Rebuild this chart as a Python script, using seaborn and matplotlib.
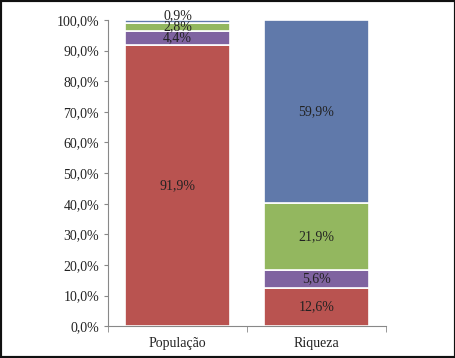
import numpy as np
import pandas as pd
import matplotlib
matplotlib.use("Agg")
import matplotlib.pyplot as plt
import seaborn as sns
from matplotlib.ticker import FuncFormatter

# ---------------------------------------------------------------------------
# Data (stacked shares, bottom to top)
# ---------------------------------------------------------------------------
categories = ["População", "Riqueza"]
seg_red = [91.9, 12.6]
seg_purple = [4.4, 5.6]
seg_green = [2.8, 21.9]
seg_blue = [0.9, 59.9]

series = [seg_red, seg_purple, seg_green, seg_blue]
colors = ["#B95350", "#7F63A0", "#93B75F", "#6079AA"]

sns.set_style("white")
plt.rcParams["font.family"] = ["Liberation Serif", "DejaVu Serif"]

fig = plt.figure(figsize=(4.56, 3.58), dpi=100)
ax = fig.add_axes([0.237, 0.089, 0.609, 0.855])

bottom = np.zeros(len(categories))
for vals, col in zip(series, colors):
    df = pd.DataFrame({"cat": categories, "val": vals})
    sns.barplot(data=df, x="cat", y="val", color=col, width=0.76,
                edgecolor="white", linewidth=1.2, ax=ax,
                bottom=bottom, saturation=1)
    for i, v in enumerate(vals):
        ypos = bottom[i] + v / 2
        if v < 1.5:
            ypos += 1.8  # tiny slice: lift the label a touch
        ax.text(i, ypos, f"{v:.1f}%".replace(".", ","),
                ha="center", va="center", fontsize=10, color="#222222",
                clip_on=False)
    bottom = bottom + np.array(vals)

ax.set_xlim(-0.5, 1.5)
ax.set_ylim(0, 100)
ax.set_yticks(np.arange(0, 101, 10))
ax.yaxis.set_major_formatter(FuncFormatter(lambda v, p: f"{v:.1f}%".replace(".", ",")))
ax.set_xlabel("")
ax.set_ylabel("")
ax.tick_params(axis="both", labelsize=10, colors="#222222", length=3,
               direction="out", left=True, bottom=False)
ax.tick_params(axis="x", pad=5)
ax.set_xticks([-0.5, 0.5, 1.5], minor=True)
ax.tick_params(axis="x", which="minor", bottom=True, length=4, color="#888888")
ax.tick_params(axis="y", color="#888888")
for s in ["top", "right"]:
    ax.spines[s].set_visible(False)
for s in ["left", "bottom"]:
    ax.spines[s].set_color("#888888")
    ax.spines[s].set_linewidth(0.8)

fig.patches.append(plt.Rectangle((0, 0), 1, 1, transform=fig.transFigure,
                                 fill=False, edgecolor="#111111", linewidth=3))
fig.savefig("out.png", dpi=100)
